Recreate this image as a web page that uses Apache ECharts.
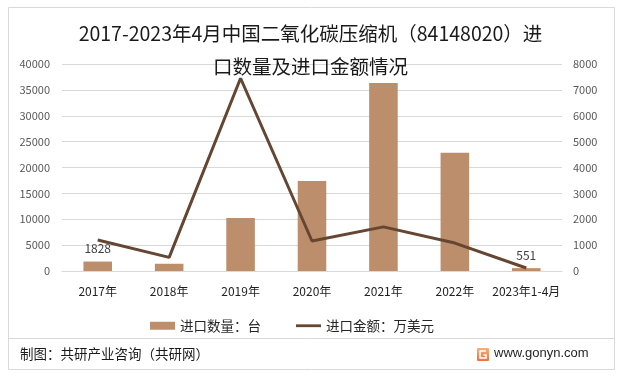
<!DOCTYPE html>
<html>
<head>
<meta charset="utf-8">
<script src="https://cdn.jsdelivr.net/npm/echarts@6/dist/echarts.min.js"></script>
<style>
html,body{margin:0;padding:0;background:#fff;}
#c{width:621px;height:379px;}
</style>
</head>
<body>
<div id="c"></div>
<script>
var categories = ['2017年','2018年','2019年','2020年','2021年','2022年','2023年1-4月'];
var quantity = [1828, 1400, 10240, 17390, 36350, 22830, 551];
var amount = [1195, 528, 7450, 1160, 1705, 1080, 115];
var leftTicks = [0, 40000, 5000];
var rightTicks = [0, 8000, 1000];
var labeledBars = [0, 6];
var seriesNames = ['进口数量：台', '进口金额：万美元'];
var titleText = '2017-2023年4月中国二氧化碳压缩机（84148020）进\n口数量及进口金额情况';
var sourceText = '制图：共研产业咨询（共研网）';
var siteText = 'www.gonyn.com';

var FONT = '"Noto Sans CJK SC", "Noto Sans", sans-serif';
var chart = echarts.init(document.getElementById('c'), null, {renderer: 'canvas'});

var barData = quantity.map(function (v, i) {
  return {
    value: v,
    label: { show: labeledBars.indexOf(i) >= 0 }
  };
});
function plain(v) { return String(v); }

chart.setOption({
  backgroundColor: '#ffffff',
  animation: false,
  textStyle: { fontFamily: FONT },
  title: {
    text: titleText,
    left: 'center',
    top: 12,
    textStyle: {
      fontFamily: FONT,
      fontSize: 19.5,
      fontWeight: 'normal',
      color: '#1a1a1a',
      lineHeight: 33
    }
  },
  legend: {
    left: 145,
    top: 314,
    itemWidth: 25,
    itemHeight: 8,
    itemGap: 35,
    textStyle: { fontFamily: FONT, fontSize: 13.5, color: '#262626' },
    data: [
      { name: seriesNames[0], icon: 'rect' },
      { name: seriesNames[1], icon: 'path://M0,0H27V3H0Z' }
    ]
  },
  grid: { left: 62, right: 59, top: 64, bottom: 108, containLabel: false },
  xAxis: {
    type: 'category',
    data: categories,
    axisLine: { show: true, lineStyle: { color: '#d9d9d9', width: 1 } },
    axisTick: { show: false },
    axisLabel: { margin: 14, fontSize: 12, color: '#1f1f1f', fontFamily: FONT, interval: 0 }
  },
  yAxis: [
    {
      type: 'value',
      min: leftTicks[0], max: leftTicks[1], interval: leftTicks[2],
      axisLine: { show: false },
      axisTick: { show: false },
      axisLabel: { margin: 12, fontSize: 11, color: '#595959', fontFamily: FONT, formatter: plain },
      splitLine: { lineStyle: { color: '#d9d9d9', width: 1 } }
    },
    {
      type: 'value',
      min: rightTicks[0], max: rightTicks[1], interval: rightTicks[2],
      position: 'right',
      axisLine: { show: false },
      axisTick: { show: false },
      axisLabel: { margin: 11, fontSize: 11, color: '#595959', fontFamily: FONT, formatter: plain },
      splitLine: { show: false }
    }
  ],
  series: [
    {
      name: seriesNames[0],
      type: 'bar',
      yAxisIndex: 0,
      barWidth: '40%',
      itemStyle: { color: '#bd8e6c' },
      label: { position: 'top', distance: 7, fontSize: 12, color: '#404040', fontFamily: FONT },
      data: barData
    },
    {
      name: seriesNames[1],
      type: 'line',
      yAxisIndex: 1,
      symbol: 'none',
      lineStyle: { color: '#654632', width: 3 },
      itemStyle: { color: '#654632' },
      data: amount
    }
  ],
  graphic: [
    {
      type: 'rect',
      shape: { x: 8.5, y: 7.5, width: 606, height: 362 },
      style: { fill: 'none', stroke: '#d9d9d9', lineWidth: 1 },
      silent: true, z: -1
    },
    {
      type: 'line',
      shape: { x1: 9, y1: 338.5, x2: 614, y2: 338.5 },
      style: { stroke: '#d9d9d9', lineWidth: 1 },
      silent: true
    },
    {
      type: 'text',
      left: 20, top: 347,
      style: { text: sourceText, fontSize: 13.5, fill: '#1a1a1a', fontFamily: FONT }
    },
    {
      type: 'rect',
      shape: { x: 477, y: 348, width: 12, height: 13, r: 1 },
      style: {
        fill: new echarts.graphic.LinearGradient(0, 0, 0, 1, [
          { offset: 0, color: '#f7b07a' },
          { offset: 1, color: '#ee6f3c' }
        ])
      }
    },
    {
      type: 'polyline',
      shape: { points: [[486, 351], [480, 351], [480, 358], [486, 358], [486, 355], [483.5, 355]] },
      style: { stroke: '#ffffff', lineWidth: 1.6, fill: 'none' }
    },
    {
      type: 'text',
      left: 494, top: 347,
      style: { text: siteText, fontSize: 13, fill: '#262626', fontFamily: '"Liberation Sans", Arial, sans-serif' }
    }
  ]
});
</script>
</body>
</html>
